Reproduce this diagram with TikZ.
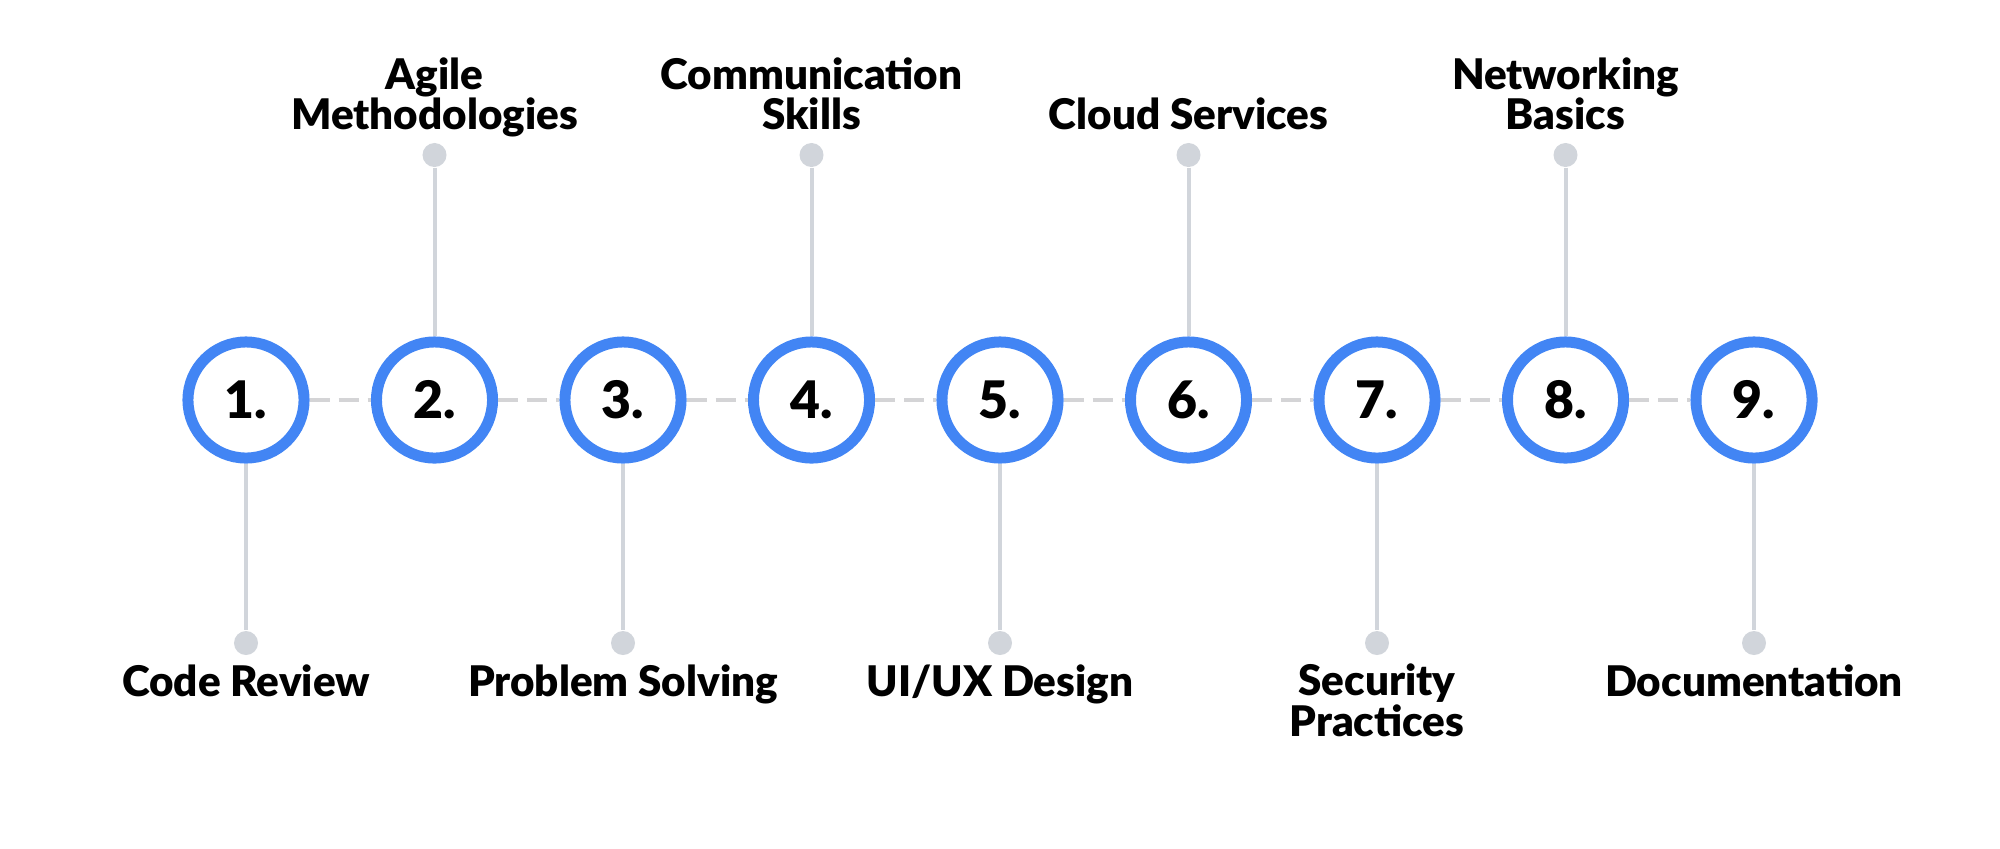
\documentclass[tikz,border=0pt]{standalone}
\usepackage{fontspec}
\setmainfont{Lato}[BoldFont={Lato Black}]
\usepackage{tikz}
\definecolor{ringblue}{HTML}{4285F4}
\definecolor{stemgray}{HTML}{D1D5DB}
\definecolor{dashgray}{HTML}{D4D4D6}
\newcommand{\lblFont}[0]{\fontsize{12}{11.4}\selectfont\bfseries}

\begin{document}
\begin{tikzpicture}[x=0.01cm, y=-0.01cm]
  \tikzset{
    ring/.style={circle, draw=ringblue, line width=3.13pt, fill=white,
      minimum size=1.16cm, inner sep=0pt, font=\fontsize{14.7}{15}\selectfont\bfseries},
    stemdot/.style={circle, fill=stemgray, minimum size=0.24cm, inner sep=0pt},
    stem/.style={draw=stemgray, line width=1.14pt},
    dashline/.style={draw=dashgray, line width=1.14pt, dash pattern=on 0.2cm off 0.09cm},
    toplbl/.style={align=center, anchor=south, inner sep=0pt, text depth=0pt, font=\lblFont},
    botlbl/.style={align=center, anchor=base, inner sep=0pt, font=\lblFont}
  }
  \useasboundingbox (0,0) rectangle (2000,848);
  \foreach \i in {1,...,9}
    \node[ring] (c\i) at ({246+188.5*(\i-1)}, 400) {\i.};
  \foreach \i [evaluate=\i as \j using int(\i+1)] in {1,...,8}
    \draw[dashline] (c\i) -- (c\j);
  % dots above
  \node[stemdot] (d2) at (434.5, 155) {};
  \node[stemdot] (d4) at (811.5, 155) {};
  \node[stemdot] (d6) at (1188.5, 155) {};
  \node[stemdot] (d8) at (1565.5, 155) {};
  % dots below
  \node[stemdot] (d1) at (246, 643) {};
  \node[stemdot] (d3) at (623, 643) {};
  \node[stemdot] (d5) at (1000, 643) {};
  \node[stemdot] (d7) at (1377, 643) {};
  \node[stemdot] (d9) at (1754, 643) {};
  \foreach \i in {2,4,6,8}
    \draw[stem] (d\i) -- (c\i);
  \foreach \i in {1,3,5,7,9}
    \draw[stem] (c\i) -- (d\i);
  \node[toplbl] (t2) at (434.5, 130) {Agile\\Methodologies};
  \node[toplbl] (t4) at (811.5, 130) {Communication\\Skills};
  \node[toplbl] (t6) at (1188.5, 130) {Cloud Services};
  \node[toplbl] (t8) at (1565.5, 130) {Networking\\Basics};
  \node[botlbl] (b1) at (246, 696) {Code Review};
  \node[botlbl] (b3) at (623, 696) {Problem Solving};
  \node[botlbl] (b5) at (1000, 696) {UI/UX Design};
  % two lines: base sits on the last one
  \node[botlbl] (b7) at (1377, 736) {Security\\Practices};
  \node[botlbl] (b9) at (1754, 696) {Documentation};
\end{tikzpicture}
\end{document}
